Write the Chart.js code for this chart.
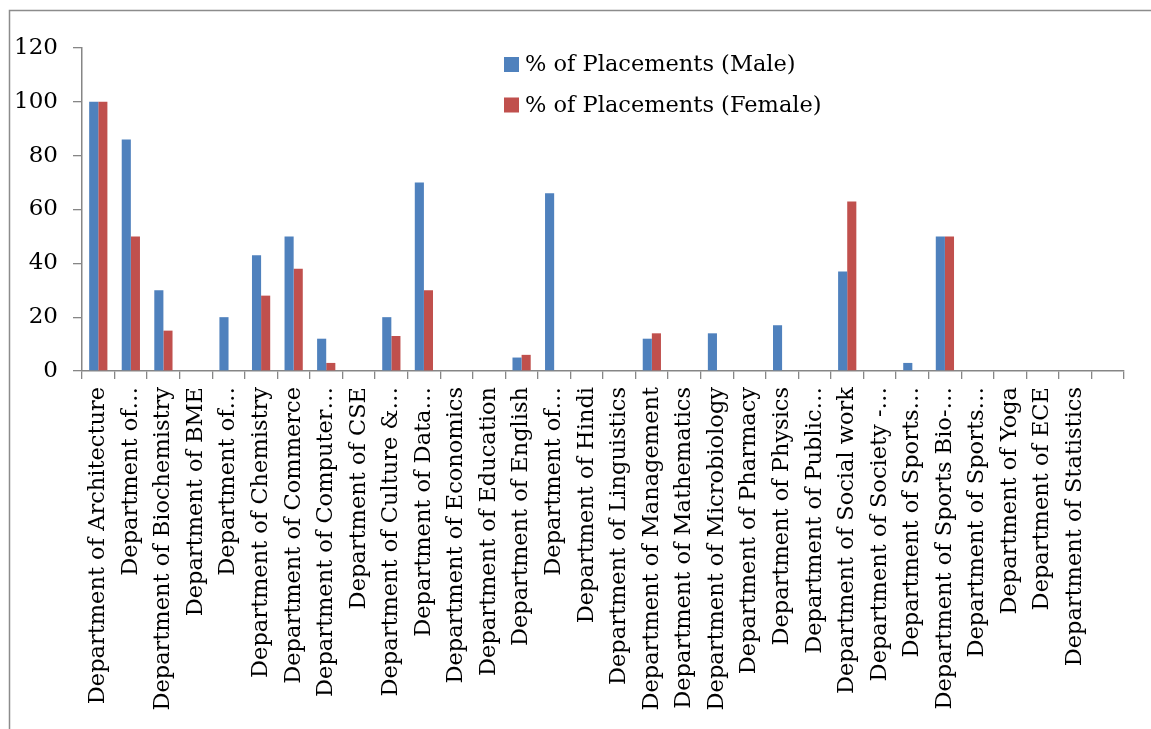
<!DOCTYPE html>
<html>
<head>
<meta charset="utf-8">
<script src="https://cdn.jsdelivr.net/npm/chart.js@4.4.0/dist/chart.umd.min.js"></script>
<style>
  html, body { margin: 0; padding: 0; background: #fff; }
  #wrap { position: relative; width: 1151px; height: 729px; }
</style>
</head>
<body>
<div id="wrap"><canvas id="c" width="1151" height="729"></canvas></div>
<script>
const categories = [
  "Department of Architecture",
  "Department of…",
  "Department of Biochemistry",
  "Department of BME",
  "Department of…",
  "Department of Chemistry",
  "Department of Commerce",
  "Department of Computer…",
  "Department of CSE",
  "Department of Culture &…",
  "Department of Data…",
  "Department of Economics",
  "Department of Education",
  "Department of English",
  "Department of…",
  "Department of Hindi",
  "Department of Linguistics",
  "Department of Management",
  "Department of Mathematics",
  "Department of Microbiology",
  "Department of Pharmacy",
  "Department of Physics",
  "Department of Public…",
  "Department of Social work",
  "Department of Society -…",
  "Department of Sports…",
  "Department of Sports Bio-…",
  "Department of Sports…",
  "Department of Yoga",
  "Department of ECE",
  "Department of Statistics",
  ""
];
const maleValues = [100, 86, 30, 0, 20, 43, 50, 12, 0, 20, 70, 0, 0, 5, 66, 0, 0, 12, 0, 14, 0, 17, 0, 37, 0, 3, 50, 0, 0, 0, 0, 0];
const femaleValues = [100, 50, 15, 0, 0, 28, 38, 3, 0, 13, 30, 0, 0, 6, 0, 0, 0, 14, 0, 0, 0, 0, 0, 63, 0, 0, 50, 0, 0, 0, 0, 0];
const seriesNames = ["% of Placements (Male)", "% of Placements (Female)"];
const yTicks = [0, 20, 40, 60, 80, 100, 120];

const FONT = "'DejaVu Serif', serif";
const AXIS = "#868686";

const framePlugin = {
  id: 'frame',
  beforeDraw(chart) {
    const ctx = chart.ctx;
    ctx.save();
    ctx.strokeStyle = "#8c8c8c";
    ctx.lineWidth = 1.5;
    ctx.beginPath();
    ctx.moveTo(9.5, 729);
    ctx.lineTo(9.5, 10.5);
    ctx.lineTo(1151, 10.5);
    ctx.stroke();
    ctx.restore();
  }
};

const legendPlugin = {
  id: 'customLegend',
  afterDraw(chart) {
    const ctx = chart.ctx;
    ctx.save();
    ctx.font = "22.5px " + FONT;
    ctx.textBaseline = "middle";
    ctx.textAlign = "left";
    chart.data.datasets.forEach((ds, i) => {
      const y = 64.5 + i * 40.5;
      ctx.fillStyle = ds.backgroundColor;
      ctx.fillRect(504, y - 7.5, 15, 15);
      ctx.fillStyle = "#000";
      ctx.fillText(ds.label, 525, y + 1);
    });
    ctx.restore();
  }
};

new Chart(document.getElementById('c'), {
  type: 'bar',
  data: {
    labels: categories,
    datasets: [
      { label: seriesNames[0], data: maleValues, backgroundColor: "#4F81BD", borderWidth: 0 },
      { label: seriesNames[1], data: femaleValues, backgroundColor: "#C0504D", borderWidth: 0 }
    ]
  },
  options: {
    responsive: false,
    animation: false,
    devicePixelRatio: 1,
    layout: { padding: { left: 0, top: 48, right: 27, bottom: 0 } },
    datasets: { bar: { categoryPercentage: 0.56, barPercentage: 1.0 } },
    plugins: { legend: { display: false }, tooltip: { enabled: false } },
    scales: {
      x: {
        offset: true,
        grid: { offset: true, drawOnChartArea: false, drawTicks: true, tickLength: 8, color: AXIS, lineWidth: 1.3 },
        border: { display: true, color: AXIS, width: 1.5 },
        ticks: {
          autoSkip: false, maxRotation: 90, minRotation: 90, padding: 8,
          color: "#000", font: { family: FONT, size: 22.5 }
        },
        afterFit(scale) { scale.height = 358; }
      },
      y: {
        min: 0, max: 120,
        afterBuildTicks(scale) { scale.ticks = yTicks.map(v => ({ value: v })); },
        grid: { drawOnChartArea: false, drawTicks: true, tickLength: 9, color: AXIS, lineWidth: 1.3 },
        border: { display: true, color: AXIS, width: 1.5 },
        ticks: { padding: 15, color: "#000", font: { family: FONT, size: 23 } },
        afterFit(scale) { scale.width = 82; }
      }
    }
  },
  plugins: [framePlugin, legendPlugin]
});
</script>
</body>
</html>
